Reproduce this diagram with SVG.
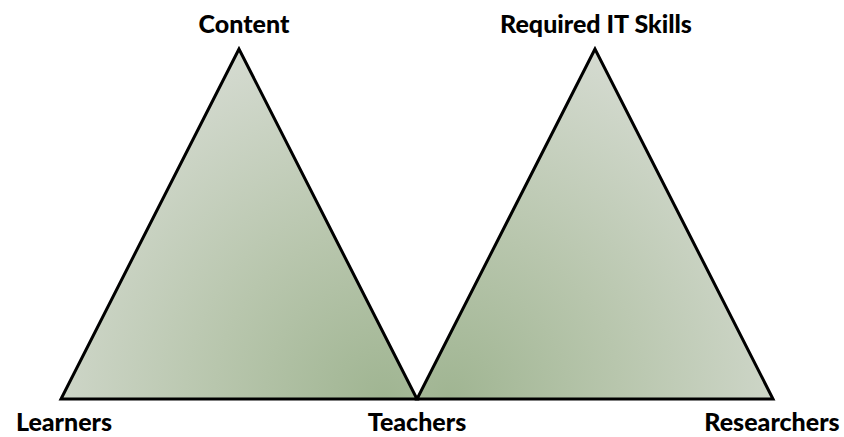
<svg xmlns="http://www.w3.org/2000/svg" width="844" height="437" viewBox="0 0 844 437">
  <style>
    .tri { stroke: #000; stroke-width: 3; stroke-linejoin: miter; }
    .lbl { font-family: Lato, "Open Sans", "Liberation Sans", sans-serif; font-weight: 900; font-size: 25px; fill: #000; text-anchor: middle; }
  </style>
  <defs>
    <radialGradient id="gLeft" gradientUnits="userSpaceOnUse" cx="385" cy="399" r="380">
      <stop offset="0" stop-color="#a0b592"/>
      <stop offset="0.45" stop-color="#b8c6ad"/>
      <stop offset="1" stop-color="#d5dbd1"/>
    </radialGradient>
    <radialGradient id="gRight" gradientUnits="userSpaceOnUse" cx="449" cy="399" r="380">
      <stop offset="0" stop-color="#a0b592"/>
      <stop offset="0.45" stop-color="#b8c6ad"/>
      <stop offset="1" stop-color="#d5dbd1"/>
    </radialGradient>
  </defs>
  <rect width="844" height="437" fill="#fff"/>
  <g id="triangle-left">
    <polygon class="tri" points="239,49 61,399 417,399" fill="url(#gLeft)"/>
  </g>
  <g id="triangle-right">
    <polygon class="tri" points="595,49 417,399 773,399" fill="url(#gRight)"/>
  </g>
  <g id="node-content"><text class="lbl" x="244" y="33">Content</text></g>
  <g id="node-required-it-skills"><text class="lbl" x="596" y="33">Required IT Skills</text></g>
  <g id="node-learners"><text class="lbl" x="64" y="431">Learners</text></g>
  <g id="node-teachers"><text class="lbl" x="417" y="431">Teachers</text></g>
  <g id="node-researchers"><text class="lbl" x="772" y="431">Researchers</text></g>
  <g id="connectors"></g>
</svg>
